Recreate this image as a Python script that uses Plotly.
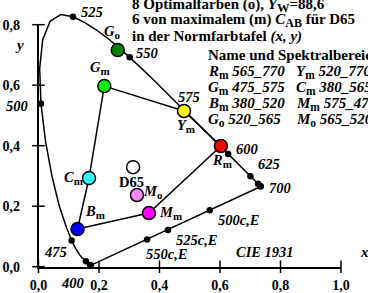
import plotly.graph_objects as go

# ---------------- data ----------------
# CIE 1931 spectral locus (x, y), 380..700 nm step 5
wl = list(range(380, 701, 5))
loc_x = [0.1741, 0.1740, 0.1738, 0.1736, 0.1733, 0.1730, 0.1726, 0.1721, 0.1714, 0.1703,
         0.1689, 0.1669, 0.1644, 0.1611, 0.1566, 0.1510, 0.1440, 0.1355, 0.1241, 0.1096,
         0.0913, 0.0687, 0.0454, 0.0235, 0.0082, 0.0039, 0.0139, 0.0389, 0.0743, 0.1142,
         0.1547, 0.1929, 0.2296, 0.2658, 0.3016, 0.3373, 0.3731, 0.4087, 0.4441, 0.4788,
         0.5125, 0.5448, 0.5752, 0.6029, 0.6270, 0.6482, 0.6658, 0.6801, 0.6915, 0.7006,
         0.7079, 0.7140, 0.7190, 0.7230, 0.7260, 0.7283, 0.7300, 0.7311, 0.7320, 0.7327,
         0.7334, 0.7340, 0.7344, 0.7346, 0.7347]
loc_y = [0.0050, 0.0050, 0.0049, 0.0049, 0.0048, 0.0048, 0.0048, 0.0048, 0.0051, 0.0058,
         0.0069, 0.0086, 0.0109, 0.0138, 0.0177, 0.0227, 0.0297, 0.0399, 0.0578, 0.0868,
         0.1327, 0.2007, 0.2950, 0.4127, 0.5384, 0.6548, 0.7502, 0.8120, 0.8338, 0.8262,
         0.8059, 0.7816, 0.7543, 0.7243, 0.6923, 0.6589, 0.6245, 0.5896, 0.5547, 0.5202,
         0.4866, 0.4544, 0.4242, 0.3965, 0.3725, 0.3514, 0.3340, 0.3197, 0.3083, 0.2993,
         0.2920, 0.2859, 0.2809, 0.2770, 0.2740, 0.2717, 0.2700, 0.2689, 0.2680, 0.2673,
         0.2666, 0.2660, 0.2656, 0.2654, 0.2653]

dot_wl = [400, 425, 450, 475, 500, 525, 550, 575, 600, 625, 650, 675, 700]
label_wl = [400, 475, 500, 525, 550, 575, 600, 625, 700]

# complementary wavelength points on the purple line
compl_names = ["500c,E", "525c,E", "550c,E"]
compl_x = [0.566, 0.428, 0.359]
compl_y = [0.187, 0.121, 0.090]

# optimal / maximal colours
col_names = ["Go", "Gm", "Ym", "Rm", "Cm", "Bm", "Mm", "Mo", "D65"]
col_x = [0.262, 0.2175, 0.481, 0.603, 0.167, 0.129, 0.365, 0.3256, 0.3127]
col_y = [0.716, 0.597, 0.5147, 0.399, 0.293, 0.1246, 0.1775, 0.237, 0.329]
col_fill = ["#008200", "#00f000", "#ffff00", "#ff0000", "#30ffff", "#0000ff",
            "#ff00ff", "#ff88ff", "#ffffff"]
hexagon = ["Gm", "Ym", "Rm", "Mm", "Bm", "Cm", "Gm"]

x_ticks = [0.0, 0.2, 0.4, 0.6, 0.8, 1.0]
x_ticktext = ["0,0", "0,2", "0,4", "0,6", "0,8", "1,0"]
y_ticks = [0.0, 0.2, 0.4, 0.6, 0.8]
y_ticktext = ["0,0", "0,2", "0,4", "0,6", "0,8"]

table_head = "Name und Spektralbereich"
table_col1 = [("R", "m", "565_770"), ("G", "m", "475_575"), ("B", "m", "380_520"), ("G", "o", "520_565")]
table_col2 = [("Y", "m", "520_770"), ("C", "m", "380_565"), ("M", "m", "575_475"), ("M", "o", "565_520")]

# ---------------- layout geometry ----------------
W, H = 368, 293
S = 302.5          # px per unit
X0, Y0 = 38.5, 266.7   # pixel position of origin
FONT = "Liberation Serif"

def sub(t, px):
    return "<sub><span style='font-size:%gpx'>%s</span></sub>" % (px, t)

title_lines = ["8 Optimalfarben (o), <i>Y</i>%s=88,6" % sub("W", 12.5),
               "6 von maximalem (m) <i>C</i>%s für D65" % sub("AB", 12),
               "in der Normfarbtafel <i>(x, y)</i>"]

fig = go.Figure()

# locus
fig.add_trace(go.Scatter(x=loc_x + [loc_x[0]], y=loc_y + [loc_y[0]], mode="lines",
                         line=dict(color="black", width=1.5), xaxis="x2", yaxis="y2",
                         hoverinfo="skip", showlegend=False))
# dots on locus
dx = [loc_x[wl.index(w)] for w in dot_wl]
dy = [loc_y[wl.index(w)] for w in dot_wl]
fig.add_trace(go.Scatter(x=dx + compl_x, y=dy + compl_y, mode="markers",
                         marker=dict(color="black", size=6.5), xaxis="x2", yaxis="y2",
                         cliponaxis=False, showlegend=False))
# hexagon
hx = [col_x[col_names.index(n)] for n in hexagon]
hy = [col_y[col_names.index(n)] for n in hexagon]
fig.add_trace(go.Scatter(x=hx, y=hy, mode="lines", line=dict(color="black", width=1.5),
                         xaxis="x2", yaxis="y2", showlegend=False))
# circles
fig.add_trace(go.Scatter(x=col_x, y=col_y, mode="markers",
                         marker=dict(color=col_fill, size=13, line=dict(color="black", width=1.5)),
                         xaxis="x2", yaxis="y2", cliponaxis=False, showlegend=False))
# crossing ticks on visible axes
fig.add_trace(go.Scatter(x=x_ticks, y=[0] * len(x_ticks), mode="markers",
                         marker=dict(symbol="line-ns", size=9, line=dict(color="black", width=1.5)),
                         cliponaxis=False, showlegend=False))
fig.add_trace(go.Scatter(x=[0] * len(y_ticks), y=y_ticks, mode="markers",
                         marker=dict(symbol="line-ew", size=9, line=dict(color="black", width=1.5)),
                         cliponaxis=False, showlegend=False))

ann = []
def txt(x, y, text, xs=0, ys=0, ref="x2", xa="center", size=14.5):
    ann.append(dict(x=x, y=y, xref=ref, yref=ref.replace("x", "y"), text="<b>%s</b>" % text,
                    showarrow=False, xshift=xs, yshift=ys, xanchor=xa, yanchor="middle",
                    font=dict(family=FONT, size=size, color="black")))

wl_shift = {400: (-18, -18), 475: (-16, -12), 500: (-24, -2), 525: (19, 5), 550: (17, 4),
            575: (6, 12), 600: (19, 5), 625: (19, 12), 700: (19, -2)}
for w in label_wl:
    i = wl.index(w)
    xs, ys = wl_shift[w]
    txt(loc_x[i], loc_y[i], "<i>%d</i>" % w, xs, ys)

c_shift = [(29, -10), (29, -10), (20, -15)]
for n, x, y, (xs, ys) in zip(compl_names, compl_x, compl_y, c_shift):
    txt(x, y, "<i>%s</i>" % n, xs, ys)

lab_shift = [(-6, 18), (-4, 18), (2, -15), (1, -15), (-16, 0), (17, 17), (22, 0), (16, 3), (-2, -15)]
for n, x, y, (xs, ys) in zip(col_names, col_x, col_y, lab_shift):
    t = n if n == "D65" else "<i>%s</i>%s" % (n[0], sub(n[1], 11))
    txt(x, y, t, xs, ys, size=14.5)

def paper(px, py, text, xa="left", size=15):
    ann.append(dict(x=px / W, y=1 - py / H, xref="paper", yref="paper", text="<b>%s</b>" % text,
                    showarrow=False, xanchor=xa, yanchor="middle",
                    font=dict(family=FONT, size=size, color="black")))

paper(265, 252, "<i>CIE 1931</i>", "center", 14.5)
paper(364, 252, "<i>x</i>", "center", 15)
paper(19, 45, "<i>y</i>", "center", 15)

for k, line in enumerate(title_lines):
    paper(130, [6, 21, 36.5][k], line)
paper(205.5, 55, table_head)
rows_y = [72, 88, 104, 120]
for k in range(4):
    a, s, b = table_col1[k]
    paper(205.5, rows_y[k], "<i>%s</i>%s <i>%s</i>" % (a, sub(s, 11.5), b))
    a, s, b = table_col2[k]
    paper(294, rows_y[k], "<i>%s</i>%s <i>%s</i>" % (a, sub(s, 11.5), b))

tickfont = dict(family=FONT, size=14, color="black")
fig.update_layout(
    width=W, height=H, margin=dict(l=0, r=0, t=0, b=0),
    paper_bgcolor="white", plot_bgcolor="rgba(0,0,0,0)",
    showlegend=False, annotations=ann,
    xaxis=dict(domain=[X0 / W, (X0 + S) / W], range=[0, 1], anchor="y",
               showline=True, linecolor="black", linewidth=1.5, showgrid=False,
               zeroline=False, tickvals=x_ticks, ticktext=["<b>%s</b>" % t for t in x_ticktext],
               ticks="", tickfont=tickfont, ticklabelstandoff=5, automargin=False,
               fixedrange=True),
    yaxis=dict(domain=[(H - Y0) / H, (H - Y0 + 0.8 * S) / H], range=[0, 0.8], anchor="x",
               showline=True, linecolor="black", linewidth=1.5, showgrid=False,
               zeroline=False, tickvals=y_ticks, ticktext=["<b>%s</b>" % t for t in y_ticktext],
               ticks="", tickfont=tickfont, ticklabelstandoff=14, automargin=False,
               fixedrange=True),
    xaxis2=dict(domain=[0, 1], range=[-X0 / S, (W - X0) / S], anchor="y2", visible=False),
    yaxis2=dict(domain=[0, 1], range=[-(H - Y0) / S, Y0 / S], anchor="x2", visible=False),
)

fig.write_html("out.html", post_script="document.body.style.margin='0';",
               config={"displayModeBar": False})
